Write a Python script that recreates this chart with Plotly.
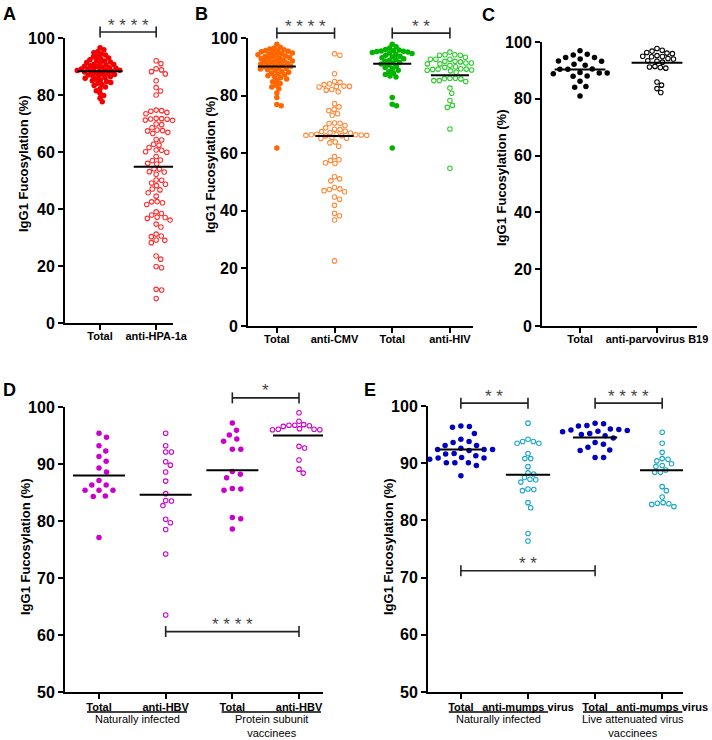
import plotly.graph_objects as go

FONT = "Liberation Sans, Arial, sans-serif"

# ---------------- data (IgG1 fucosylation, %) ----------------
# A
a_ticks = ["Total", "anti-HPA-1a"]
a_total = [96.6, 95.9, 95.3, 94.8, 94.4, 94.0, 93.7, 93.3, 93.0, 92.7, 92.4, 92.1, 91.9, 91.6,
           91.4, 91.1, 90.9, 90.7, 90.5, 90.3, 90.1, 89.9, 89.7, 89.6, 89.4, 89.3, 89.1, 89.0,
           88.8, 88.7, 88.6, 88.4, 88.3, 88.1, 88.0, 87.8, 87.6, 87.4, 87.2, 87.0, 86.8, 86.6,
           86.4, 86.1, 85.9, 85.6, 85.3, 85.0, 84.7, 84.4, 84.1, 83.7, 83.3, 82.8, 82.2, 81.5,
           80.6, 79.8, 78.9, 77.6]
a_anti = [92.0, 91.0, 89.2, 88.8, 88.2, 87.4, 85.0, 82.6, 81.4, 80.0, 74.7, 74.5, 74.3, 73.9,
          73.4, 71.8, 71.6, 71.5, 71.2, 71.7, 71.1, 69.8, 69.6, 68.5, 67.7, 67.5, 67.4, 66.9,
          66.5, 64.4, 64.2, 62.7, 62.4, 61.6, 60.7, 60.6, 60.1, 59.9, 58.4, 57.2, 57.0, 56.0,
          55.8, 54.1, 54.0, 53.1, 53.0, 52.2, 50.2, 50.1, 49.1, 48.7, 48.2, 47.0, 46.7, 45.7,
          44.5, 42.6, 42.5, 42.2, 41.6, 39.0, 38.4, 37.9, 37.1, 37.0, 36.7, 36.1, 34.7, 33.7,
          31.2, 30.5, 30.3, 29.1, 29.0, 28.2, 23.5, 22.4, 19.8, 19.4, 11.8, 11.6, 8.6]
a_median = [88.3, 54.8]

# B
b_ticks = ["Total", "anti-CMV", "Total", "anti-HIV"]
b_total_cmv = [97.8, 96.8, 96.5, 96.2, 95.9, 95.7, 95.5, 95.4, 95.2, 95.0, 94.8, 94.6, 94.4,
               94.2, 94.0, 93.8, 93.6, 93.4, 93.2, 93.0, 92.8, 92.6, 92.4, 92.2, 92.0, 91.8,
               91.6, 91.4, 91.2, 91.0, 90.8, 90.6, 90.4, 90.2, 90.0, 89.8, 89.6, 89.4, 89.2,
               89.0, 88.7, 88.4, 88.1, 87.8, 87.5, 87.2, 86.9, 86.6, 86.2, 85.8, 85.3, 84.8,
               84.2, 83.6, 83.0, 82.4, 80.9, 79.3, 76.9, 76.5, 61.8]
b_anti_cmv = [94.5, 94.0, 87.6, 84.9, 84.6, 84.1, 83.8, 83.3, 83.2, 83.1, 83.0, 82.1, 81.9,
              81.3, 77.2, 76.1, 75.2, 74.8, 73.7, 73.2, 70.5, 70.4, 70.3, 69.6, 68.8, 68.3,
              68.2, 67.6, 67.5, 67.2, 67.0, 66.6, 66.5, 66.4, 66.4, 66.3, 66.2, 66.2, 66.1,
              66.0, 65.4, 65.2, 65.1, 63.9, 63.6, 62.4, 58.8, 57.7, 57.5, 56.7, 56.4, 51.8,
              51.1, 50.4, 48.1, 47.6, 47.4, 47.0, 46.6, 44.8, 44.0, 41.9, 39.1, 38.3, 36.8, 22.6]
b_total_hiv = [97.8, 97.0, 96.5, 96.0, 95.8, 95.6, 95.5, 95.4, 95.3, 95.1, 95.0, 94.8, 94.6,
               94.3, 94.0, 93.7, 93.4, 93.1, 92.8, 92.5, 92.2, 91.9, 91.6, 91.3, 91.0, 90.6,
               90.2, 89.8, 89.3, 88.8, 88.3, 87.8, 87.3, 86.8, 86.5, 79.3, 77.0, 76.5, 61.8]
b_anti_hiv = [95.1, 94.2, 94.2, 94.0, 94.0, 93.3, 92.6, 92.6, 92.6, 91.9, 91.9, 91.7, 91.3,
              91.3, 91.0, 91.0, 90.5, 90.0, 89.8, 89.3, 89.2, 89.2, 89.1, 88.9, 88.8, 88.6,
              88.1, 86.0, 86.0, 85.9, 85.8, 85.2, 85.2, 84.9, 82.6, 80.8, 78.3, 76.6, 75.9,
              68.4, 54.8]
b_median = [90.1, 66.0, 91.1, 87.1]

# C
c_ticks = ["Total", "anti-parvovirus B19"]
c_total = [96.9, 95.7, 95.4, 94.5, 94.5, 94.0, 93.3, 93.2, 92.2, 91.8, 90.5, 90.4, 90.4,
           89.3, 89.1, 89.1, 88.8, 88.0, 87.9, 86.2, 84.3, 84.1, 81.0]
c_anti = [97.7, 97.1, 96.8, 96.3, 96.1, 95.9, 95.2, 95.0, 94.9, 94.8, 94.2, 94.0, 93.4,
          93.2, 92.9, 91.4, 91.2, 91.0, 90.8, 85.9, 84.8, 83.6, 82.2]
c_median = [90.3, 92.7]

# D
d_ticks = ["Total", "anti-HBV", "Total", "anti-HBV"]
d_groups = ["Naturally infected", "Protein subunit<br>vaccinees"]
d_total_nat = [95.4, 94.7, 93.2, 92.3, 91.3, 90.5, 89.3, 88.6, 87.1, 86.3, 86.3, 85.4, 85.4,
               85.4, 84.4, 84.3, 77.1]
d_anti_nat = [95.4, 93.2, 92.1, 92.1, 90.4, 89.8, 88.6, 87.0, 84.8, 83.6, 83.5, 82.7, 80.3,
              79.7, 78.5, 74.2, 63.5]
d_total_vac = [97.2, 95.9, 95.1, 94.4, 94.0, 92.6, 92.6, 88.7, 88.2, 87.6, 85.7, 85.6, 85.4,
               80.6, 80.4, 78.6]
d_anti_vac = [99.0, 97.5, 96.9, 96.8, 96.8, 96.7, 96.6, 96.2, 96.1, 96.1, 96.0, 96.0, 93.1,
              92.8, 90.7, 89.1, 88.4]
d_median = [88.0, 84.6, 88.9, 95.0]

# E
e_ticks = ["Total", "anti-mumps virus", "Total", "anti-mumps virus"]
e_groups = ["Naturally infected", "Live attenuated virus<br>vaccinees"]
e_total_nat = [96.5, 96.4, 96.3, 95.2, 94.2, 93.8, 93.6, 93.1, 93.1, 92.6, 92.4, 92.4, 92.4,
               92.2, 91.7, 91.6, 91.3, 91.0, 90.9, 90.9, 90.7, 90.1, 90.1, 90.1, 89.6, 87.8]
e_anti_nat = [97.0, 94.2, 93.8, 93.8, 93.5, 93.5, 91.7, 90.8, 90.8, 89.4, 88.3, 88.1, 87.5,
              87.2, 87.1, 86.7, 85.5, 85.4, 85.2, 83.1, 82.2, 77.7, 76.4]
e_total_vac = [97.0, 96.9, 96.6, 96.5, 96.0, 95.9, 95.8, 95.7, 95.6, 95.5, 95.2, 95.0, 94.8,
               94.4, 93.6, 93.3, 92.8, 92.3, 92.2, 91.0, 91.0]
e_anti_vac = [95.4, 93.5, 91.9, 90.8, 90.7, 90.4, 89.9, 89.6, 89.4, 88.8, 88.4, 88.4, 85.9,
              85.2, 84.1, 83.1, 83.0, 82.9, 82.8, 82.4]
e_median = [92.4, 88.0, 94.5, 88.75]

# significance brackets: (from category, to category, level, label)
a_sig = [(1, 2, 102.1, "* * * *")]
b_sig = [(1, 2, 101.7, "* * * *"), (3, 4, 101.7, "* *")]
d_sig = [(3, 4, 101.6, "*"), (2, 4, 60.6, "* * * *")]
e_sig = [(1, 2, 100.5, "* *"), (3, 4, 100.5, "* * * *"), (1, 3, 71.2, "* *")]


def swarm(vals, pxx, pxy, d):
    # simple beeswarm in pixel space, returns x offsets in data units
    order = sorted(range(len(vals)), key=lambda i: -vals[i])
    placed = []
    xs = [0.0] * len(vals)
    for i in order:
        y = vals[i] * pxy
        near = [(px, py) for px, py in placed if abs(py - y) < d]
        cands = [0.0]
        for px, py in near:
            dx = (d * d - (py - y) ** 2) ** 0.5
            cands += [px + dx, px - dx]
        cands.sort(key=abs)
        for c in cands:
            if all((c - px) ** 2 + (y - py) ** 2 >= d * d - 1e-6 for px, py in near):
                xs[i] = c / pxx
                placed.append((c, y))
                break
    return xs


fig = go.Figure()

panels = {
    "A": dict(xa="x", ya="y", pxx=56.1, pxy=2.85, hpx=285, mw=0.40, lo=0, hi=100),
    "B": dict(xa="x2", ya="y2", pxx=57.7, pxy=2.88, hpx=288, mw=0.33, lo=0, hi=100),
    "C": dict(xa="x3", ya="y3", pxx=77.0, pxy=2.84, hpx=284, mw=0.33, lo=0, hi=100),
    "D": dict(xa="x4", ya="y4", pxx=66.7, pxy=5.70, hpx=285, mw=0.39, lo=50, hi=100),
    "E": dict(xa="x5", ya="y5", pxx=67.1, pxy=5.72, hpx=286, mw=0.33, lo=50, hi=100),
}


def add_group(p, pos, vals, color, filled, d):
    cfg = panels[p]
    offs = swarm(vals, cfg["pxx"], cfg["pxy"], d)
    if filled:
        marker = dict(size=5.5, color=color, symbol="circle", line=dict(width=0))
    else:
        marker = dict(size=4.5, color=color, symbol="circle-open", line=dict(width=1.1, color=color))
    fig.add_trace(go.Scatter(x=[pos + o for o in offs], y=vals, mode="markers", marker=marker,
                             xaxis=cfg["xa"], yaxis=cfg["ya"], cliponaxis=False,
                             showlegend=False, hoverinfo="y"))


def add_medians(p, medians):
    cfg = panels[p]
    for k, m in enumerate(medians):
        pos = k + 1
        fig.add_trace(go.Scatter(x=[pos - cfg["mw"], pos + cfg["mw"]], y=[m, m], mode="lines",
                                 line=dict(color="black", width=2), xaxis=cfg["xa"],
                                 yaxis=cfg["ya"], showlegend=False, hoverinfo="skip"))


add_group("A", 1, a_total, "#f20000", True, 4.3)
add_group("A", 2, a_anti, "#ff3030", False, 5.5)
add_medians("A", a_median)

add_group("B", 1, b_total_cmv, "#ff6600", True, 4.5)
add_group("B", 2, b_anti_cmv, "#ff8a3a", False, 5.5)
add_group("B", 3, b_total_hiv, "#00b400", True, 4.5)
add_group("B", 4, b_anti_hiv, "#2ecc2e", False, 5.5)
add_medians("B", b_median)

add_group("C", 1, c_total, "#000000", True, 8)
add_group("C", 2, c_anti, "#000000", False, 5.5)
add_medians("C", c_median)

add_group("D", 1, d_total_nat, "#cc00cc", True, 8.5)
add_group("D", 2, d_anti_nat, "#cc00cc", False, 5.8)
add_group("D", 3, d_total_vac, "#cc00cc", True, 8.5)
add_group("D", 4, d_anti_vac, "#cc00cc", False, 5.8)
add_medians("D", d_median)

add_group("E", 1, e_total_nat, "#0000c0", True, 8.5)
add_group("E", 2, e_anti_nat, "#1aa6c6", False, 5.8)
add_group("E", 3, e_total_vac, "#0000c0", True, 8.5)
add_group("E", 4, e_anti_vac, "#1aa6c6", False, 5.8)
add_medians("E", e_median)

shapes = []
annotations = []


def add_brackets(p, sigs):
    cfg = panels[p]
    span = cfg["hi"] - cfg["lo"]
    yref = cfg["ya"] + " domain"
    half = 5.5 / cfg["hpx"]
    for x0, x1, lvl, lab in sigs:
        yd = (lvl - cfg["lo"]) / span
        line = dict(color="#222222", width=1.6)
        shapes.append(dict(type="line", xref=cfg["xa"], yref=yref, x0=x0, x1=x1, y0=yd, y1=yd, line=line))
        for xx in (x0, x1):
            shapes.append(dict(type="line", xref=cfg["xa"], yref=yref, x0=xx, x1=xx,
                               y0=yd - half, y1=yd + half, line=line))
        annotations.append(dict(text=lab, xref=cfg["xa"], yref=yref, x=(x0 + x1) / 2,
                                y=yd - 4.5 / cfg["hpx"], yanchor="bottom", showarrow=False,
                                font=dict(family=FONT, size=17, color="#444444")))


add_brackets("A", a_sig)
add_brackets("B", b_sig)
add_brackets("D", d_sig)
add_brackets("E", e_sig)

# group labels under D and E
for xa, groups, spans in (("x4", d_groups, [(0.82, 2.32), (2.84, 4.33)]),
                          ("x5", e_groups, [(0.82, 2.30), (2.82, 4.30)])):
    for g, (s0, s1) in zip(groups, spans):
        shapes.append(dict(type="line", xref=xa, yref="paper", x0=s0, x1=s1,
                           y0=1 - 712 / 740, y1=1 - 712 / 740, line=dict(color="black", width=1.5)))
        annotations.append(dict(text=g, xref=xa, yref="paper", x=(s0 + s1) / 2,
                                y=1 - 711.5 / 740, yanchor="top", showarrow=False, borderpad=0,
                                font=dict(family=FONT, size=11, color="black")))

# panel letters
for lab, px, py in (("A", 9, 14), ("B", 201, 14), ("C", 488, 15), ("D", 9, 390), ("E", 370, 390)):
    annotations.append(dict(text=lab, xref="paper", yref="paper", x=px / 712, y=1 - py / 740,
                            xanchor="center", yanchor="middle", showarrow=False,
                            font=dict(family=FONT, size=18, color="black", weight="bold")))

# y-axis titles
for px, py in ((24, 164), (210, 165), (501, 178), (25, 547), (388, 547)):
    annotations.append(dict(text="IgG1 Fucosylation (%)", xref="paper", yref="paper",
                            x=px / 712, y=1 - py / 740, xanchor="center", yanchor="middle",
                            textangle=-90, showarrow=False,
                            font=dict(family=FONT, size=13, color="black", weight="bold")))

xcommon = dict(showline=True, linewidth=2, linecolor="black", ticks="outside", ticklen=5,
               tickwidth=2, tickcolor="black", showgrid=False, zeroline=False, automargin=False,
               tickfont=dict(family=FONT, size=11, color="black", weight="bold"))
ycommon = dict(showline=True, linewidth=2, linecolor="black", ticks="outside", ticklen=5,
               tickwidth=2, tickcolor="black", showgrid=False, zeroline=False, automargin=False,
               tickfont=dict(family=FONT, size=16, color="black", weight="bold"))

fig.update_layout(
    template="none",
    width=712, height=740,
    margin=dict(l=0, r=0, t=0, b=0, autoexpand=False),
    paper_bgcolor="white", plot_bgcolor="white",
    showlegend=False,
    xaxis=dict(domain=[65 / 712, 173 / 712], range=[0.375, 2.3], anchor="y", ticklabelstandoff=-3,
               tickvals=[1, 2], ticktext=a_ticks, **xcommon),
    yaxis=dict(domain=[1 - 323 / 740, 1 - 38 / 740], range=[0, 100], anchor="x", dtick=20, **ycommon),
    xaxis2=dict(domain=[248 / 712, 473 / 712], range=[0.5, 4.4], anchor="y2", ticklabelstandoff=-3,
                tickvals=[1, 2, 3, 4], ticktext=b_ticks, **xcommon),
    yaxis2=dict(domain=[1 - 326 / 740, 1 - 38 / 740], range=[0, 100], anchor="x2", dtick=20, **ycommon),
    xaxis3=dict(domain=[542 / 712, 697 / 712], range=[0.506, 2.52], anchor="y3", ticklabelstandoff=-3,
                tickvals=[1, 2], ticktext=c_ticks, **xcommon),
    yaxis3=dict(domain=[1 - 326 / 740, 1 - 42 / 740], range=[0, 100], anchor="x3", dtick=20, **ycommon),
    xaxis4=dict(domain=[65 / 712, 323 / 712], range=[0.49, 4.36], anchor="y4", ticklabelstandoff=-1,
                tickvals=[1, 2, 3, 4], ticktext=d_ticks, **xcommon),
    yaxis4=dict(domain=[1 - 692 / 740, 1 - 407 / 740], range=[50, 100], anchor="x4", dtick=10, **ycommon),
    xaxis5=dict(domain=[428 / 712, 683 / 712], range=[0.51, 4.31], anchor="y5", ticklabelstandoff=-1,
                tickvals=[1, 2, 3, 4], ticktext=e_ticks, **xcommon),
    yaxis5=dict(domain=[1 - 692 / 740, 1 - 406 / 740], range=[50, 100], anchor="x5", dtick=10, **ycommon),
    shapes=shapes,
    annotations=annotations,
)

# the page's default body margin would shift the 712x740 figure; drop it
fig.write_html("out.html", config={"displayModeBar": False},
               post_script="document.body.style.margin='0';document.body.style.overflow='hidden';")
